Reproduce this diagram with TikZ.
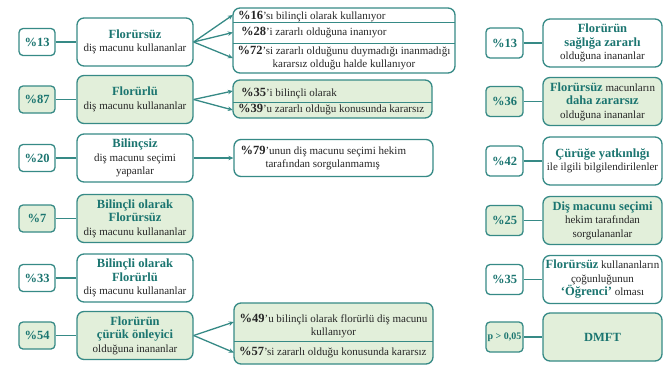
\documentclass[tikz,border=0pt]{standalone}
\usepackage{fontspec}
\setmainfont{Liberation Serif}
\usetikzlibrary{arrows.meta}
\definecolor{bd}{HTML}{368A86}
\definecolor{gf}{HTML}{E2EFDA}
\definecolor{ttl}{HTML}{1B7570}
\definecolor{txt}{HTML}{262626}
\newcommand\ttlx[1]{{\fontsize{12.5}{14}\selectfont\bfseries\color{ttl}#1}}
\newcommand\pcb[1]{{\fontsize{12.5}{14}\selectfont\bfseries\color{txt}#1}}
\begin{document}
\begin{tikzpicture}[x=1pt,y=-1pt,
 every node/.style={font=\fontsize{11}{13.5}\selectfont,text=txt,inner sep=0pt},
 bx/.style={draw=bd,line width=1.3pt,rounded corners=7pt,align=center},
 sb/.style={draw=bd,line width=1.3pt,rounded corners=4pt,minimum width=36pt,minimum height=27pt,align=center},
 lbig/.style={bx,minimum width=116pt,minimum height=48pt},
 rbig/.style={bx,minimum width=119pt,minimum height=48pt},
 rsm/.style={sb,minimum width=37pt,minimum height=30pt},
 wf/.style={fill=white}, gg/.style={fill=gf},
 ln/.style={draw=bd,line width=1.3pt},
 ar/.style={ln,-{Stealth[length=5pt,width=4.5pt]}}]
\useasboundingbox (0,0) rectangle (670,365);

% ---------- left column ----------
\node[sb,wf] (ls1) at (37,42) {\ttlx{\%13}};
\node[lbig,wf] (lb1) at (135,42) {\ttlx{Florürsüz}\\diş macunu kullananlar};
\node[sb,gg] (ls2) at (37,99.5) {\ttlx{\%87}};
\node[lbig,gg] (lb2) at (135,99.5) {\ttlx{Florürlü}\\diş macunu kullananlar};
\node[sb,wf] (ls3) at (37,158) {\ttlx{\%20}};
\node[lbig,wf] (lb3) at (135,158) {\ttlx{Bilinçsiz}\\diş macunu seçimi\\yapanlar};
\node[sb,gg] (ls4) at (37,218.5) {\ttlx{\%7}};
\node[lbig,gg] (lb4) at (135,218.5) {\ttlx{Bilinçli olarak}\\\ttlx{Florürsüz}\\diş macunu kullananlar};
\node[sb,wf] (ls5) at (37,278) {\ttlx{\%33}};
\node[lbig,wf] (lb5) at (135,278) {\ttlx{Bilinçli olarak}\\\ttlx{Florürlü}\\diş macunu kullananlar};
\node[sb,gg] (ls6) at (37,335.5) {\ttlx{\%54}};
\node[lbig,gg] (lb6) at (135,335.5) {\ttlx{Florürün}\\\ttlx{çürük önleyici}\\olduğuna inananlar};
\foreach \i in {1,...,6} {\draw[ln] (ls\i) -- (lb\i);}

% ---------- right column ----------
\node[rsm,wf] (rs1) at (504.5,43) {\ttlx{\%13}};
\node[rbig,wf] (rb1) at (602.5,43) {\ttlx{Florürün}\\\ttlx{sağlığa zararlı}\\olduğuna inananlar};
\node[rsm,gg] (rs2) at (504.5,101.5) {\ttlx{\%36}};
\node[rbig,gg] (rb2) at (602.5,101.5) {\ttlx{Florürsüz} macunların\\\ttlx{daha zararsız}\\olduğuna inananlar};
\node[rsm,wf] (rs3) at (504.5,161) {\ttlx{\%42}};
\node[rbig,wf] (rb3) at (602.5,161) {\ttlx{Çürüğe yatkınlığı}\\ile ilgili bilgilendirilenler};
\node[rsm,gg] (rs4) at (504.5,220.5) {\ttlx{\%25}};
\node[rbig,gg] (rb4) at (602.5,220.5) {\ttlx{Diş macunu seçimi}\\hekim tarafından\\sorgulananlar};
\node[rsm,wf] (rs5) at (504.5,279.5) {\ttlx{\%35}};
\node[rbig,wf] (rb5) at (602.5,279.5) {\ttlx{Florürsüz} kullananların\\çoğunluğunun\\\ttlx{‘Öğrenci’} olması};
\node[rsm,gg] (rs6) at (504.5,337) {{\fontsize{10}{12}\selectfont\bfseries\color{ttl}p > 0,05}};
\node[rbig,gg] (rb6) at (602.5,337) {\ttlx{DMFT}};
\foreach \i in {1,...,6} {\draw[ln] (rs\i) -- (rb\i);}

% ---------- middle column ----------
% box 1
\node[bx,wf,minimum width=222pt,minimum height=65pt] (m1) at (344,40.5) {};
\node[minimum width=222pt,minimum height=14pt] (r11) at (344,15) {};
\node[minimum width=222pt,minimum height=21pt] (r12) at (344,32.5) {};
\node[minimum width=222pt,minimum height=30pt] (r13) at (344,58) {};
\draw[ln] (r11.south west) -- (r11.south east);
\draw[ln] (r12.south west) -- (r12.south east);
\node[anchor=west] (t11) at ([xshift=5pt,yshift=-1.5pt]r11.west) {\pcb{\%16}’sı bilinçli olarak kullanıyor};
\node[anchor=west] (t12) at ([xshift=8pt]r12.west) {\pcb{\%28}’i zararlı olduğuna inanıyor};
\node[align=center] (t13) at (r13.center) {\pcb{\%72}’si zararlı olduğunu duymadığı inanmadığı\\kararsız olduğu halde kullanıyor};
% box 2
\node[bx,gg,minimum width=199pt,minimum height=38pt] (m2) at (332.5,99) {};
\node[minimum width=199pt,minimum height=22pt] (r21) at (332.5,91) {};
\node[minimum width=199pt,minimum height=16pt] (r22) at (332.5,110) {};
\draw[ln] (r21.south west) -- (r21.south east);
\node[anchor=west] (t21) at ([xshift=8pt,yshift=-3pt]r21.west) {\pcb{\%35}’i bilinçli olarak};
\node[anchor=west] (t22) at ([xshift=5pt]r22.west) {\pcb{\%39}’u zararlı olduğu konusunda kararsız};
% box 3
\node[bx,wf,minimum width=199pt,minimum height=37pt] (m3) at (333.5,158) {};
\node[anchor=west,align=left] (t3) at ([xshift=7pt]m3.west) {\pcb{\%79}’unun diş macunu seçimi hekim\\\hspace*{25pt}tarafından sorgulanmamış};
% box 4
\node[bx,gg,minimum width=199pt,minimum height=61pt] (m4) at (333.5,333.5) {};
\node[minimum width=199pt,minimum height=38pt] (r41) at (333.5,322) {};
\node[minimum width=199pt,minimum height=23pt] (r42) at (333.5,352.5) {};
\draw[ln] (r41.south west) -- (r41.south east);
\node[align=center] (t41) at ([yshift=-4pt]r41.center) {\pcb{\%49}’u bilinçli olarak florürlü diş macunu\\kullanıyor};
\node[anchor=west] (t42) at ([xshift=5pt]r42.west) {\pcb{\%57}’si zararlı olduğu konusunda kararsız};

% ---------- arrows ----------
\draw[ar] (lb1.east) -- (r11.west);
\draw[ar] (lb1.east) -- (r12.west);
\draw[ar] (lb1.east) -- (r13.west);
\draw[ar] (lb2.east) -- (r21.west);
\draw[ar] (lb2.east) -- (r22.west);
\draw[ar] (lb3) -- (m3);
\draw[ar] (lb6.east) -- (r41.west);
\draw[ar] (lb6.east) -- (r42.west);
\end{tikzpicture}
\end{document}
